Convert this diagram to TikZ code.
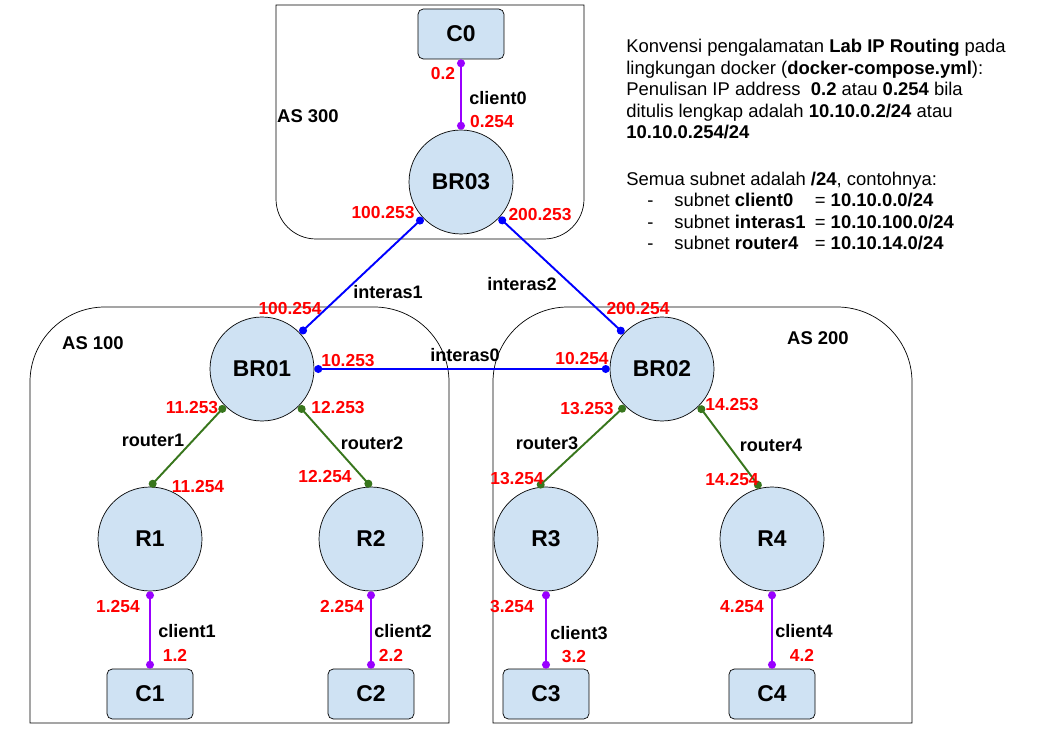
\documentclass[tikz,border=0pt]{standalone}
\usepackage{fontspec}
\setmainfont{Liberation Sans}
\usepackage{xcolor}
\usepackage{tikz}
\usetikzlibrary{arrows.meta,positioning}
\definecolor{boxblue}{HTML}{CFE2F3}
\definecolor{lanpurple}{HTML}{9900FF}
\definecolor{wanblue}{HTML}{0000FF}
\definecolor{coregreen}{HTML}{38761D}
\definecolor{ipred}{HTML}{FF0000}
\tikzset{rtr/.style={circle,draw,fill=boxblue,minimum size=2.08cm,inner sep=0pt,font=\fontsize{13}{15}\selectfont\bfseries}}
\tikzset{cli/.style={rectangle,draw,fill=boxblue,rounded corners=3pt,minimum width=1.72cm,minimum height=1cm,inner sep=0pt,font=\fontsize{13}{15}\selectfont\bfseries}}
\tikzset{ip/.style={text=ipred,inner sep=0pt,font=\fontsize{9.9}{11}\selectfont\bfseries}}
\tikzset{net/.style={inner sep=0pt,font=\fontsize{10.3}{12}\selectfont\bfseries}}
\tikzset{asn/.style={inner sep=0pt,font=\fontsize{10.5}{12}\selectfont\bfseries}}
\tikzset{dots/.style={{Circle[length=4.5pt]}-{Circle[length=4.5pt]},line width=1.1pt}}
\tikzset{lan/.style={dots,color=lanpurple}}
\tikzset{wan/.style={dots,color=wanblue}}
\tikzset{core/.style={dots,color=coregreen}}

\begin{document}
\begin{tikzpicture}[x=0.02cm,y=0.02cm]
    \useasboundingbox (0,0) rectangle (1041,-739);

    % AS areas
    \draw (276,-5) -- (276,-120) [rounded corners=0.8cm] -- (276,-239) -- (584,-239) -- (584,-120) [sharp corners] -- (584,-5) -- cycle;
    \draw (30,-500) [rounded corners=1.5cm] -- (30,-307) -- (449,-307) -- (449,-500) [sharp corners] -- (449,-723) -- (30,-723) -- cycle;
    \draw (493,-500) [rounded corners=1.5cm] -- (493,-307) -- (912,-307) -- (912,-500) [sharp corners] -- (912,-723) -- (493,-723) -- cycle;
    \node[asn] (as3) at (308,-116) {AS 300};
    \node[asn] (as1) at (93,-343) {AS 100};
    \node[asn] (as2) at (818,-338) {AS 200};

    \node[cli] (c0) at (461,-34) {C0};
    \node[rtr] (br03) at (461,-182) {BR03};
    \node[rtr] (br01) at (262,-369) {BR01};
    \node[rtr] (br02) at (662,-369) {BR02};
    \node[rtr] (r1) at (150,-539) {R1};
    \node[rtr] (r2) at (371,-539) {R2};
    \node[rtr] (r3) at (546,-539) {R3};
    \node[rtr] (r4) at (772,-539) {R4};
    \node[cli] (c1) at (150,-694) {C1};
    \node[cli] (c2) at (371,-694) {C2};
    \node[cli] (c3) at (546,-694) {C3};
    \node[cli] (c4) at (772,-694) {C4};

    \draw [lan] (c0) -- (br03);
    \draw [wan] (br03) -- (br01);
    \draw [wan] (br03) -- (br02);
    \draw [wan] (br01) -- (br02);
    \draw [core] (br01.225) -- (r1.north);
    \draw [core] (br01.315) -- (r2.north);
    \draw [core] (br02.225) -- (r3.99);
    \draw [core] (br02.315) -- (r4.103);
    \draw [lan] (r1) -- (c1);
    \draw [lan] (r2) -- (c2);
    \draw [lan] (r3) -- (c3);
    \draw [lan] (r4) -- (c4);

    % subnet names
    \node[net] (n0) at (498,-98) {client0};
    \node[net] (ni1) at (388,-292) {interas1};
    \node[net] (ni2) at (522,-284) {interas2};
    \node[net] (ni0) at (465,-355) {interas0};
    \node[net] (nr1) at (153,-440) {router1};
    \node[net] (nr2) at (372,-443) {router2};
    \node[net] (nr3) at (547,-443) {router3};
    \node[net] (nr4) at (771,-445) {router4};
    \node[net] (n1) at (187,-631) {client1};
    \node[net] (n2) at (403,-631) {client2};
    \node[net] (n3) at (579,-633) {client3};
    \node[net] (n4) at (804,-631) {client4};

    % addresses
    \node[ip] (a1) at (443,-74) {0.2};
    \node[ip] (a2) at (492,-122) {0.254};
    \node[ip] (a3) at (383,-213) {100.253};
    \node[ip] (a4) at (540,-215) {200.253};
    \node[ip] (a5) at (290,-309) {100.254};
    \node[ip] (a6) at (638,-309) {200.254};
    \node[ip] (a7) at (348,-361) {10.253};
    \node[ip] (a8) at (582,-359) {10.254};
    \node[ip] (a9) at (192,-408) {11.253};
    \node[ip] (a10) at (338,-408) {12.253};
    \node[ip] (a11) at (587,-409) {13.253};
    \node[ip] (a12) at (732,-405) {14.253};
    \node[ip] (a13) at (198,-487) {11.254};
    \node[ip] (a14) at (325,-477) {12.254};
    \node[ip] (a15) at (517,-479) {13.254};
    \node[ip] (a16) at (732,-480) {14.254};
    \node[ip] (a17) at (118,-607) {1.254};
    \node[ip] (a18) at (342,-607) {2.254};
    \node[ip] (a19) at (512,-607) {3.254};
    \node[ip] (a20) at (742,-607) {4.254};
    \node[ip] (a21) at (175,-655) {1.2};
    \node[ip] (a22) at (391,-655) {2.2};
    \node[ip] (a23) at (574,-657) {3.2};
    \node[ip] (a24) at (802,-655) {4.2};

    % convention note
    \node[anchor=north west,align=left,inner sep=0pt,font=\fontsize{10.5}{12.2}\selectfont] (note) at (626,-39) {Konvensi pengalamatan \textbf{Lab IP Routing} pada\\
      lingkungan docker (\textbf{docker-compose.yml}):\\
      Penulisan IP address\ \ \textbf{0.2} atau \textbf{0.254} bila\\
      ditulis lengkap adalah \textbf{10.10.0.2/24} atau\\
      \textbf{10.10.0.254/24}\\[14.5pt]
      Semua subnet adalah \textbf{/24}, contohnya:\\
      \hspace*{0.42cm}\makebox[0.54cm][l]{-}subnet \makebox[1.6cm][l]{\textbf{client0}}= \textbf{10.10.0.0/24}\\
      \hspace*{0.42cm}\makebox[0.54cm][l]{-}subnet \makebox[1.6cm][l]{\textbf{interas1}}= \textbf{10.10.100.0/24}\\
      \hspace*{0.42cm}\makebox[0.54cm][l]{-}subnet \makebox[1.6cm][l]{\textbf{router4}}= \textbf{10.10.14.0/24}};
\end{tikzpicture}
\end{document}
